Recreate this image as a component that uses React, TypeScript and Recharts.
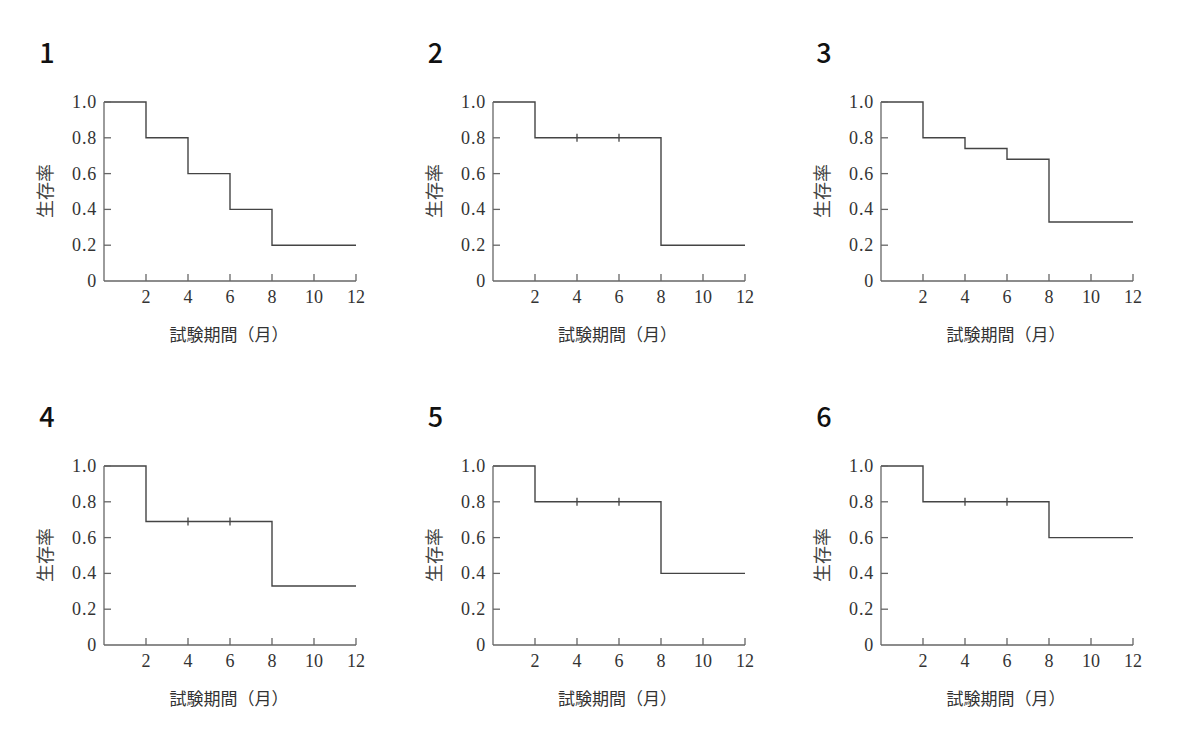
import React from "react";
import { ComposedChart, Line, Scatter, XAxis, YAxis } from "recharts";

// months at which the curve steps
const times = [0, 2, 4, 6, 8, 12];
const xTicks = [2, 4, 6, 8, 10, 12];
const yTicks = [0, 0.2, 0.4, 0.6, 0.8, 1.0];

const surv1 = [1.0, 0.8, 0.6, 0.4, 0.2, 0.2];
const surv2 = [1.0, 0.8, 0.8, 0.8, 0.2, 0.2];
const surv3 = [1.0, 0.8, 0.74, 0.68, 0.33, 0.33];
const surv4 = [1.0, 0.69, 0.69, 0.69, 0.33, 0.33];
const surv5 = [1.0, 0.8, 0.8, 0.8, 0.4, 0.4];
const surv6 = [1.0, 0.8, 0.8, 0.8, 0.6, 0.6];

// censored observations (month)
const cens1: number[] = [];
const cens2 = [4, 6];
const cens3: number[] = [];
const cens4 = [4, 6];
const cens5 = [4, 6];
const cens6 = [4, 6];

const panels = [
  { id: "1", surv: surv1, cens: cens1 },
  { id: "2", surv: surv2, cens: cens2 },
  { id: "3", surv: surv3, cens: cens3 },
  { id: "4", surv: surv4, cens: cens4 },
  { id: "5", surv: surv5, cens: cens5 },
  { id: "6", surv: surv6, cens: cens6 },
];

const AXIS = "#666";
const LINE = "#444";
const SERIF = "Liberation Serif, DejaVu Serif, serif";
const W = 388;
const H = 364;

function XTick({ x, y, payload }: any) {
  return (
    <g>
      <line x1={x} x2={x} y1={y} y2={y - 7} stroke={AXIS} strokeWidth={1.3} />
      <text
        x={x}
        y={y + 16}
        textAnchor="middle"
        dominantBaseline="central"
        fill="#333"
        style={{ fontFamily: SERIF, fontSize: 18 }}
      >
        {payload.value}
      </text>
    </g>
  );
}

function YTick({ x, y, payload }: any) {
  const v = payload.value;
  return (
    <g>
      {v > 0 && <line x1={x} x2={x + 7} y1={y} y2={y} stroke={AXIS} strokeWidth={1.3} />}
      <text
        x={x - 7}
        y={y}
        textAnchor="end"
        dominantBaseline="central"
        fill="#333"
        style={{ fontFamily: SERIF, fontSize: 18, letterSpacing: 0.8 }}
      >
        {v === 0 ? "0" : v.toFixed(1)}
      </text>
    </g>
  );
}

function CensorMark({ cx, cy }: any) {
  return <line x1={cx} x2={cx} y1={cy - 4} y2={cy + 4} stroke={LINE} strokeWidth={1.3} />;
}

function valueAt(surv: number[], t: number) {
  let v = surv[0];
  times.forEach((tt, i) => {
    if (tt <= t) v = surv[i];
  });
  return v;
}

function Panel({ id, surv, cens }: { id: string; surv: number[]; cens: number[] }) {
  const curve = times.map((t, i) => ({ t, s: surv[i] }));
  const marks = cens.map((t) => ({ t, s: valueAt(surv, t) }));
  return (
    <div style={{ position: "relative", width: W, height: H }}>
      <div
        style={{
          position: "absolute",
          left: 47,
          top: 51,
          transform: "translate(-50%, -50%)",
          fontFamily: "Noto Sans CJK JP, sans-serif",
          fontWeight: 500,
          fontSize: 27,
          lineHeight: 1,
          color: "#111",
        }}
      >
        {id}
      </div>
      <ComposedChart width={W} height={H} margin={{ top: 102, right: 32, bottom: 23, left: 44 }}>
        <XAxis
          type="number"
          dataKey="t"
          domain={[0, 12]}
          ticks={xTicks}
          allowDataOverflow
          stroke={AXIS}
          strokeWidth={1.3}
          tickLine={false}
          tickSize={0}
          tickMargin={0}
          tick={<XTick />}
          height={60}
          interval={0}
        />
        <YAxis
          type="number"
          dataKey="s"
          domain={[0, 1]}
          ticks={yTicks}
          stroke={AXIS}
          strokeWidth={1.3}
          tickLine={false}
          tickSize={0}
          tickMargin={0}
          tick={<YTick />}
          width={60}
          interval={0}
        />
        <Line
          data={curve}
          dataKey="s"
          type="stepAfter"
          stroke={LINE}
          strokeWidth={1.4}
          dot={false}
          activeDot={false}
          isAnimationActive={false}
        />
        <Scatter data={marks} dataKey="s" shape={<CensorMark />} isAnimationActive={false} />
      </ComposedChart>
      <div
        style={{
          position: "absolute",
          left: 44,
          top: 191,
          transform: "translate(-50%, -50%) rotate(-90deg)",
          fontFamily: "Noto Sans CJK JP, sans-serif",
          fontSize: 18,
          color: "#444",
          whiteSpace: "nowrap",
        }}
      >
        生存率
      </div>
      <div
        style={{
          position: "absolute",
          left: 229,
          top: 333,
          transform: "translate(-50%, -50%)",
          fontFamily: "Noto Sans CJK JP, sans-serif",
          fontSize: 17,
          color: "#333",
          whiteSpace: "nowrap",
        }}
      >
        試験期間（月）
      </div>
    </div>
  );
}

export default function App() {
  return (
    <div
      style={{
        position: "absolute",
        left: 0,
        top: 0,
        width: 1200,
        height: 755,
        background: "#fff",
      }}
    >
      {panels.map((p, i) => (
        <div
          key={p.id}
          style={{
            position: "absolute",
            left: (i % 3) * 388.5,
            top: Math.floor(i / 3) * 364,
          }}
        >
          <Panel id={p.id} surv={p.surv} cens={p.cens} />
        </div>
      ))}
    </div>
  );
}
